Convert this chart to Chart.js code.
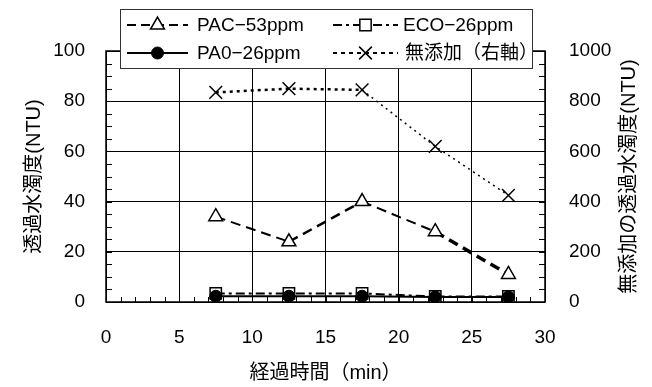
<!DOCTYPE html>
<html>
<head>
<meta charset="utf-8">
<script src="https://cdn.jsdelivr.net/npm/chart.js@4/dist/chart.umd.min.js"></script>
<style>
  html, body { margin: 0; padding: 0; background: #fff; }
</style>
</head>
<body>
<canvas id="chart" width="652" height="387"></canvas>
<script>
// data
const times = [7.5, 12.5, 17.5, 22.5, 27.5];
const pac53 = [34, 24, 40, 28, 11];
const eco26 = [3.4, 3.4, 3.4, 2.2, 2.2];
const pa026 = [2.3, 2.3, 2.3, 2.0, 2.0];
const noAdd = [835, 850, 845, 620, 425];
const seriesNames = ["PAC−53ppm", "ECO−26ppm", "PA0−26ppm", "無添加（右軸）"];
const xTitle = "経過時間（min）";
const yTitle = "透過水濁度(NTU)";
const y2Title = "無添加の透過水濁度(NTU)";

const FONT = "'Liberation Sans', 'Noto Sans CJK JP', sans-serif";
Chart.defaults.font.family = FONT;
Chart.defaults.color = "#000";

function pts(vals) {
  return times.map((t, i) => ({ x: t, y: vals[i] }));
}

// minor ticks, frame, right title
const frame = {
  id: "frame",
  beforeDatasetsDraw(chart) {
    const { ctx, chartArea: a, scales } = chart;
    ctx.save();
    ctx.strokeStyle = "#000";
    ctx.lineWidth = 1;
    ctx.beginPath();
    for (let v = 0; v <= 30; v++) {
      const x = Math.round(scales.x.getPixelForValue(v)) + 0.5;
      ctx.moveTo(x, a.bottom);
      ctx.lineTo(x, a.bottom - 5);
    }
    for (let v = 0; v <= 100; v += 5) {
      const y = Math.round(scales.y.getPixelForValue(v)) + 0.5;
      ctx.moveTo(a.left, y);
      ctx.lineTo(a.left + 6, y);
    }
    for (let v = 0; v <= 1000; v += 50) {
      const y = Math.round(scales.y2.getPixelForValue(v)) + 0.5;
      ctx.moveTo(a.right, y);
      ctx.lineTo(a.right - 6, y);
    }
    ctx.stroke();
    ctx.lineWidth = 1.5;
    ctx.strokeRect(a.left, a.top, a.right - a.left, a.bottom - a.top);
    ctx.restore();
  },
  afterDraw(chart) {
    const { ctx, chartArea: a } = chart;
    ctx.save();
    ctx.fillStyle = "#000";
    ctx.font = "20px " + FONT;
    ctx.textAlign = "center";
    ctx.textBaseline = "middle";
    ctx.translate(629, (a.top + a.bottom) / 2);
    ctx.rotate(-Math.PI / 2);
    ctx.fillText(y2Title, 0, 0);
    ctx.restore();
  }
};

// two-column legend box drawn over the top of the plot
const boxLegend = {
  id: "boxLegend",
  afterDraw(chart) {
    const { ctx } = chart;
    const slots = [
      { ds: 0, x0: 127, x1: 188, tx: 197, y: 25 },
      { ds: 1, x0: 333, x1: 398, tx: 403, y: 25 },
      { ds: 2, x0: 127, x1: 188, tx: 197, y: 53 },
      { ds: 3, x0: 333, x1: 398, tx: 405, y: 53 }
    ];
    ctx.save();
    ctx.fillStyle = "#fff";
    ctx.fillRect(120, 9, 412, 59);
    ctx.strokeStyle = "#333";
    ctx.lineWidth = 1;
    ctx.strokeRect(120.5, 9.5, 412, 59);
    slots.forEach(s => {
      const ds = chart.data.datasets[s.ds];
      ctx.save();
      ctx.strokeStyle = "#000";
      ctx.lineWidth = 2;
      ctx.setLineDash(ds.legendDash || []);
      ctx.beginPath();
      ctx.moveTo(s.x0, s.y);
      ctx.lineTo(s.x1, s.y);
      ctx.stroke();
      ctx.setLineDash([]);
      ctx.fillStyle = ds.pointBackgroundColor;
      ctx.strokeStyle = ds.pointBorderColor;
      ctx.lineWidth = ds.pointBorderWidth;
      Chart.helpers.drawPoint(ctx, {
        pointStyle: ds.pointStyle,
        radius: ds.pointRadius,
        rotation: 0,
        borderWidth: ds.pointBorderWidth
      }, (s.x0 + s.x1) / 2, s.y);
      ctx.restore();
      ctx.fillStyle = "#000";
      ctx.font = "19px " + FONT;
      ctx.textAlign = "left";
      ctx.textBaseline = "middle";
      ctx.fillText(seriesNames[s.ds], s.tx, s.y + 1);
    });
    ctx.restore();
  }
};

new Chart(document.getElementById("chart"), {
  type: "line",
  data: {
    datasets: [
      {
        label: seriesNames[0],
        data: pts(pac53),
        yAxisID: "y",
        order: 1,
        borderColor: "#000",
        borderWidth: 2,
        borderDash: [10, 6],
        legendDash: [9, 5],
        segment: {
          borderWidth: c => (c.p0DataIndex === 3 ? 3.5 : c.p0DataIndex === 1 ? 2.5 : 2)
        },
        pointStyle: "triangle",
        pointRadius: 8,
        pointBackgroundColor: "#fff",
        pointBorderColor: "#000",
        pointBorderWidth: 1.5
      },
      {
        label: seriesNames[1],
        data: pts(eco26),
        yAxisID: "y",
        order: 1,
        borderColor: "#000",
        borderWidth: 2,
        borderDash: [9, 4, 3, 4],
        legendDash: [9, 4, 3, 4],
        pointStyle: "rect",
        pointRadius: 8,
        pointBackgroundColor: "#fff",
        pointBorderColor: "#000",
        pointBorderWidth: 1.5
      },
      {
        label: seriesNames[2],
        data: pts(pa026),
        yAxisID: "y",
        order: 0,
        borderColor: "#000",
        borderWidth: 2,
        legendDash: [],
        pointStyle: "circle",
        pointRadius: 6,
        pointBackgroundColor: "#000",
        pointBorderColor: "#000",
        pointBorderWidth: 1
      },
      {
        label: seriesNames[3],
        data: pts(noAdd),
        yAxisID: "y2",
        order: 1,
        borderColor: "#000",
        borderWidth: 2.5,
        borderDash: [3, 4],
        legendDash: [4, 4],
        segment: {
          borderWidth: c => (c.p0DataIndex >= 2 ? 1.5 : 2.5),
          borderDash: c => (c.p0DataIndex >= 2 ? [2, 4] : [3, 4])
        },
        pointStyle: "crossRot",
        pointRadius: 9,
        pointBackgroundColor: "#fff",
        pointBorderColor: "#000",
        pointBorderWidth: 1.5
      }
    ]
  },
  options: {
    responsive: false,
    animation: false,
    devicePixelRatio: 1,
    layout: { padding: { top: 51 } },
    plugins: {
      legend: { display: false },
      tooltip: { enabled: false }
    },
    elements: { line: { tension: 0 } },
    scales: {
      x: {
        type: "linear",
        min: 0,
        max: 30,
        ticks: { stepSize: 5, font: { size: 19 }, padding: 24, color: "#000" },
        grid: { color: "#000", lineWidth: 1, drawTicks: false },
        border: { display: false },
        title: { display: true, text: xTitle, font: { size: 20 }, padding: { top: 0, bottom: 2 }, color: "#000" },
        afterFit: s => { s.height = 85; }
      },
      y: {
        position: "left",
        min: 0,
        max: 100,
        ticks: { stepSize: 20, font: { size: 19 }, padding: 21, color: "#000" },
        grid: { color: "#000", lineWidth: 1, drawTicks: false },
        border: { display: false },
        title: { display: true, text: yTitle, font: { size: 20 }, padding: { top: 22, bottom: 0 }, color: "#000" },
        afterFit: s => { s.width = 106; }
      },
      y2: {
        position: "right",
        min: 0,
        max: 1000,
        ticks: {
          stepSize: 200,
          font: { size: 19 },
          padding: 24,
          color: "#000",
          callback: v => String(v)
        },
        grid: { drawOnChartArea: false, drawTicks: false },
        border: { display: false },
        afterFit: s => { s.width = 107; }
      }
    }
  },
  plugins: [frame, boxLegend]
});
</script>
</body>
</html>
